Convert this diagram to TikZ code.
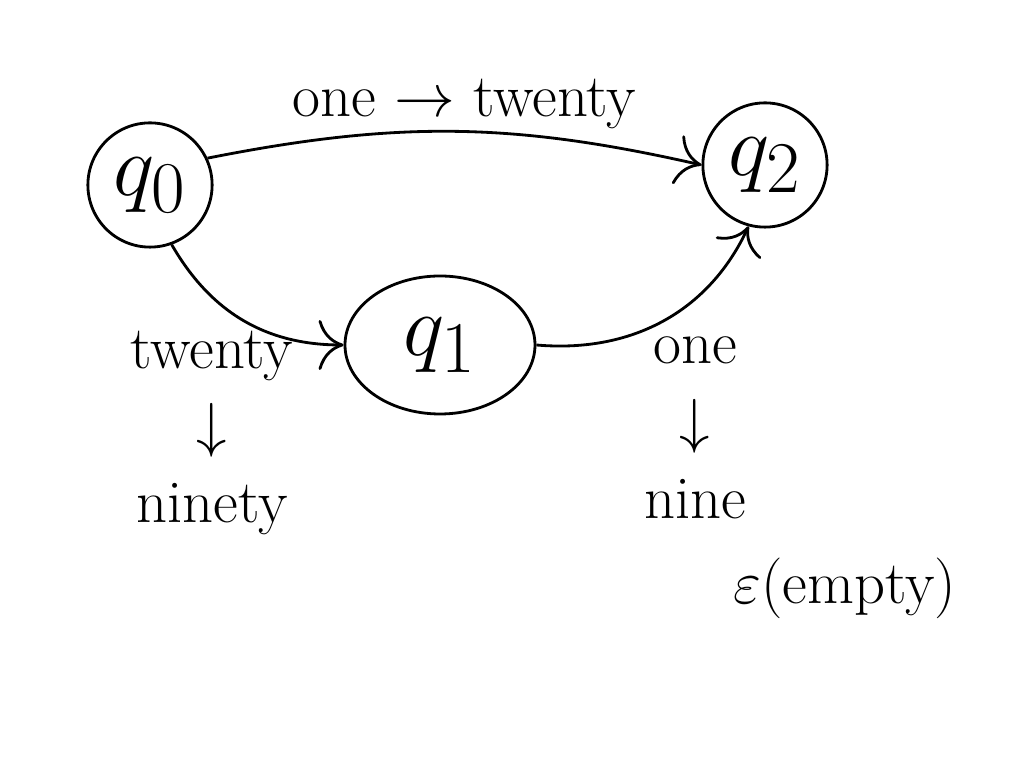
\documentclass[tikz,border=0pt]{standalone}
\usepackage{xcolor}
\usepackage{tikz}
\usepackage{amsmath}
\usetikzlibrary{shapes.geometric,arrows.meta}

\begin{document}
\begin{tikzpicture}
    % Define styles
    \tikzset{
        state/.style={circle, draw, thick, minimum size=1.2cm, font=\Huge},
        wide_state/.style={ellipse, draw, thick, minimum width=1.9cm, minimum height=1.38cm, font=\Huge},
        trans/.style={align=center, font=\LARGE},
        arrow/.style={->,>={To[length=2.5mm,width=5mm]}, thick}
    }
    \useasboundingbox (0,0) rectangle (10.24,7.68);

    % Nodes
    \node[state] (q_zero) at (1.50,5.83) {$q_0$};
    \node[state] (q_two) at (7.65,6.03) {$q_2$};
    \node[wide_state] (q_one) at (4.40,4.23) {$q_1$};
    \node[trans] (label_zero_one) at (2.12,3.35) {twenty\\$\downarrow$\\ninety};
    \node[trans] (label_one_two) at (6.95,3.40) {one\\$\downarrow$\\nine};
    \node[trans] (label_empty) at (8.45,1.80) {$\varepsilon$(empty)};

    % Arrows
    \draw[arrow] (q_zero.25) to[bend left=12] node[trans, above, pos=0.52, yshift=-3pt] {one $\to$ twenty} (q_two.west);
    \draw[arrow] (q_zero.-70) to[out=-60, in=180] (q_one.west);
    \draw[arrow] (q_one.east) to[out=-5, in=-115] (q_two.-105);
\end{tikzpicture}
\end{document}
